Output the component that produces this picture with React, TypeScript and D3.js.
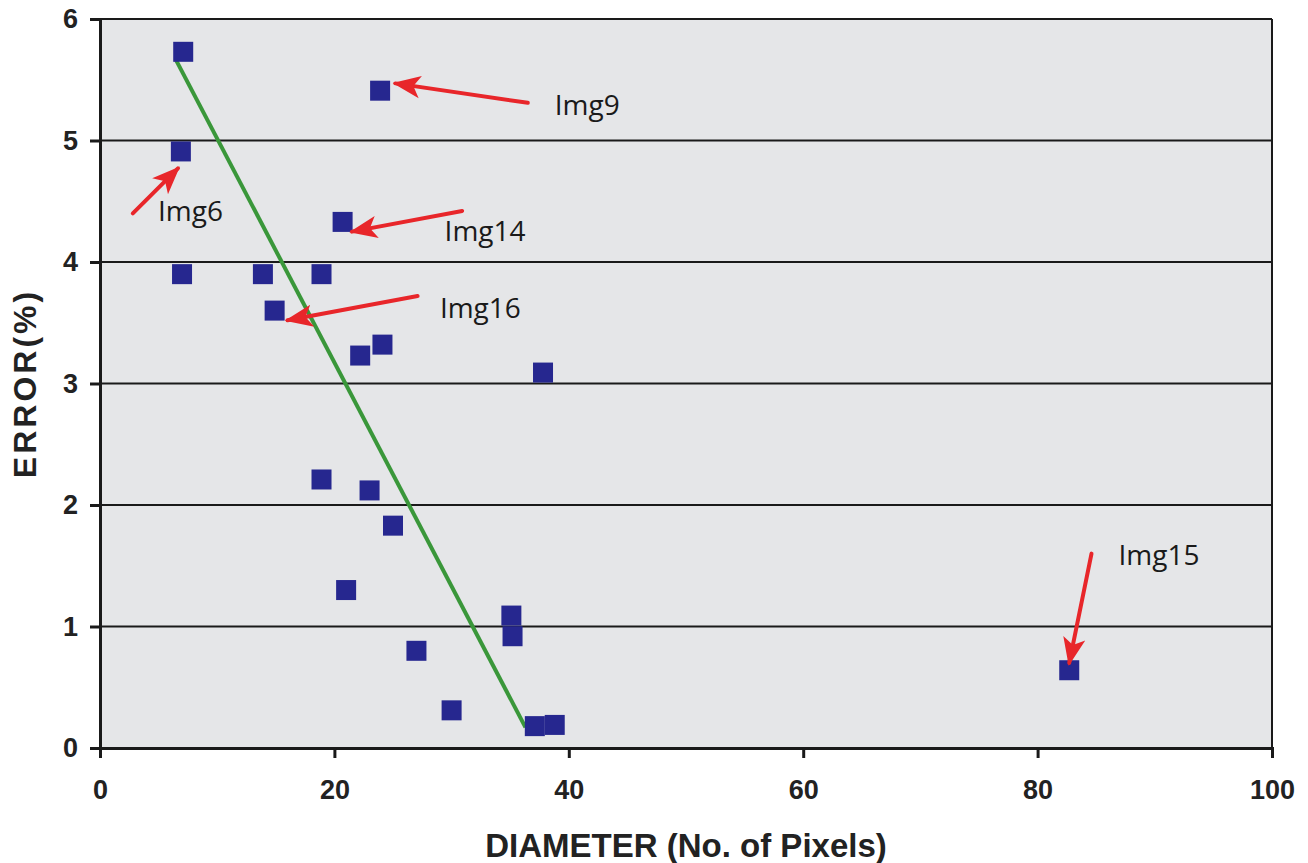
import React, { useEffect, useRef } from "react";
import * as d3 from "d3";

// diameter (px) vs error (%)
const diameters = [7.1, 23.9, 6.9, 20.7, 7.0, 13.9, 18.9, 14.9, 22.2, 24.1, 37.8, 18.9, 23.0, 25.0, 21.0, 35.1, 35.2, 27.0, 30.0, 37.1, 38.8, 82.7];
const errors = [5.73, 5.41, 4.91, 4.33, 3.9, 3.9, 3.9, 3.6, 3.23, 3.32, 3.09, 2.21, 2.12, 1.83, 1.3, 1.09, 0.92, 0.8, 0.31, 0.18, 0.19, 0.64];

// trend line end points
const trendX = [6.5, 36.3];
const trendY = [5.66, 0.17];

// annotations
const noteLabels = ["Img9", "Img6", "Img14", "Img16", "Img15"];
const noteTextX = [38.8, 4.95, 29.4, 29.0, 86.9];
const noteTextY = [5.29, 4.42, 4.25, 3.62, 1.59];
const arrowFromX = [36.5, 2.8, 30.9, 27.1, 84.6];
const arrowFromY = [5.31, 4.4, 4.42, 3.72, 1.6];
const arrowToX = [25.2, 6.65, 21.5, 16.0, 82.7];
const arrowToY = [5.47, 4.77, 4.25, 3.52, 0.7];

const xTicks = [0, 20, 40, 60, 80, 100];
const yTicks = [0, 1, 2, 3, 4, 5, 6];

const W = 1308, H = 863;
const m = { left: 100, top: 19, right: 36, bottom: 115 };

const Chart = () => {
  const ref = useRef(null);

  useEffect(() => {
    document.body.style.margin = "0";
    const svg = d3.select(ref.current);
    svg.selectAll("*").remove();

    const x = d3.scaleLinear().domain([0, 100]).range([m.left, W - m.right]);
    const y = d3.scaleLinear().domain([0, 6]).range([H - m.bottom, m.top]);

    svg.append("defs").append("marker")
      .attr("id", "head")
      .attr("viewBox", "0 0 10 10")
      .attr("refX", 9).attr("refY", 5)
      .attr("markerWidth", 7).attr("markerHeight", 7)
      .attr("markerUnits", "strokeWidth")
      .attr("orient", "auto")
      .append("path").attr("d", "M0,1 L10,5 L0,9 L2.5,5 Z").attr("fill", "#e8262a");

    svg.append("rect")
      .attr("x", x(0)).attr("y", y(6))
      .attr("width", x(100) - x(0)).attr("height", y(0) - y(6))
      .attr("fill", "#e5e6e8");

    // grid
    svg.append("g").selectAll("line").data(yTicks.filter(d => d > 0)).join("line")
      .attr("x1", x(0)).attr("x2", x(100))
      .attr("y1", d => y(d)).attr("y2", d => y(d))
      .attr("stroke", "#1a1a1a").attr("stroke-width", 2);

    // right border
    svg.append("line").attr("x1", x(100)).attr("x2", x(100)).attr("y1", y(6)).attr("y2", y(0))
      .attr("stroke", "#1a1a1a").attr("stroke-width", 2);

    const font = "'Liberation Sans', Arial, sans-serif";

    const xAxis = svg.append("g")
      .attr("transform", `translate(0,${y(0)})`)
      .call(d3.axisBottom(x).tickValues(xTicks).tickFormat(d3.format("d")).tickSize(10).tickPadding(22));
    const yAxis = svg.append("g")
      .attr("transform", `translate(${x(0)},0)`)
      .call(d3.axisLeft(y).tickValues(yTicks).tickFormat(d3.format("d")).tickSize(10).tickPadding(12));
    [xAxis, yAxis].forEach(a => {
      a.selectAll("path,line").attr("stroke", "#1a1a1a").attr("stroke-width", 3);
      a.selectAll("text")
        .attr("fill", "#222").attr("font-family", font)
        .attr("font-weight", "bold").attr("font-size", 27);
    });

    // trend line
    svg.append("line")
      .attr("x1", x(trendX[0])).attr("y1", y(trendY[0]))
      .attr("x2", x(trendX[1])).attr("y2", y(trendY[1]))
      .attr("stroke", "#3a973a").attr("stroke-width", 4);

    // points
    const s = 20;
    svg.append("g").selectAll("rect").data(diameters).join("rect")
      .attr("x", d => x(d) - s / 2)
      .attr("y", (d, i) => y(errors[i]) - s / 2)
      .attr("width", s).attr("height", s)
      .attr("fill", "#26278f");

    // arrows
    svg.append("g").selectAll("line").data(noteLabels).join("line")
      .attr("x1", (d, i) => x(arrowFromX[i])).attr("y1", (d, i) => y(arrowFromY[i]))
      .attr("x2", (d, i) => x(arrowToX[i])).attr("y2", (d, i) => y(arrowToY[i]))
      .attr("stroke", "#e8262a").attr("stroke-width", 4)
      .attr("stroke-linecap", "round")
      .attr("marker-end", "url(#head)");

    svg.append("g").selectAll("text").data(noteLabels).join("text")
      .attr("x", (d, i) => x(noteTextX[i]))
      .attr("y", (d, i) => y(noteTextY[i]))
      .attr("dy", "0.35em")
      .attr("font-family", "'Open Sans', sans-serif")
      .attr("font-size", 28)
      .attr("fill", "#1a1a1a")
      .text(d => d);

    svg.append("text")
      .attr("transform", `translate(36,${(y(0) + y(6)) / 2}) rotate(-90)`)
      .attr("text-anchor", "middle")
      .attr("font-family", font).attr("font-weight", "bold").attr("font-size", 32)
      .attr("letter-spacing", 3)
      .attr("fill", "#222")
      .text("ERROR(%)");

    svg.append("text")
      .attr("x", (x(0) + x(100)) / 2).attr("y", 857)
      .attr("text-anchor", "middle")
      .attr("font-family", font).attr("font-weight", "bold").attr("font-size", 33)
      .attr("fill", "#222")
      .text("DIAMETER (No. of Pixels)");
  }, []);

  return <svg ref={ref} width={W} height={H} style={{ display: "block" }} />;
};

export default function App() {
  return <Chart />;
}
